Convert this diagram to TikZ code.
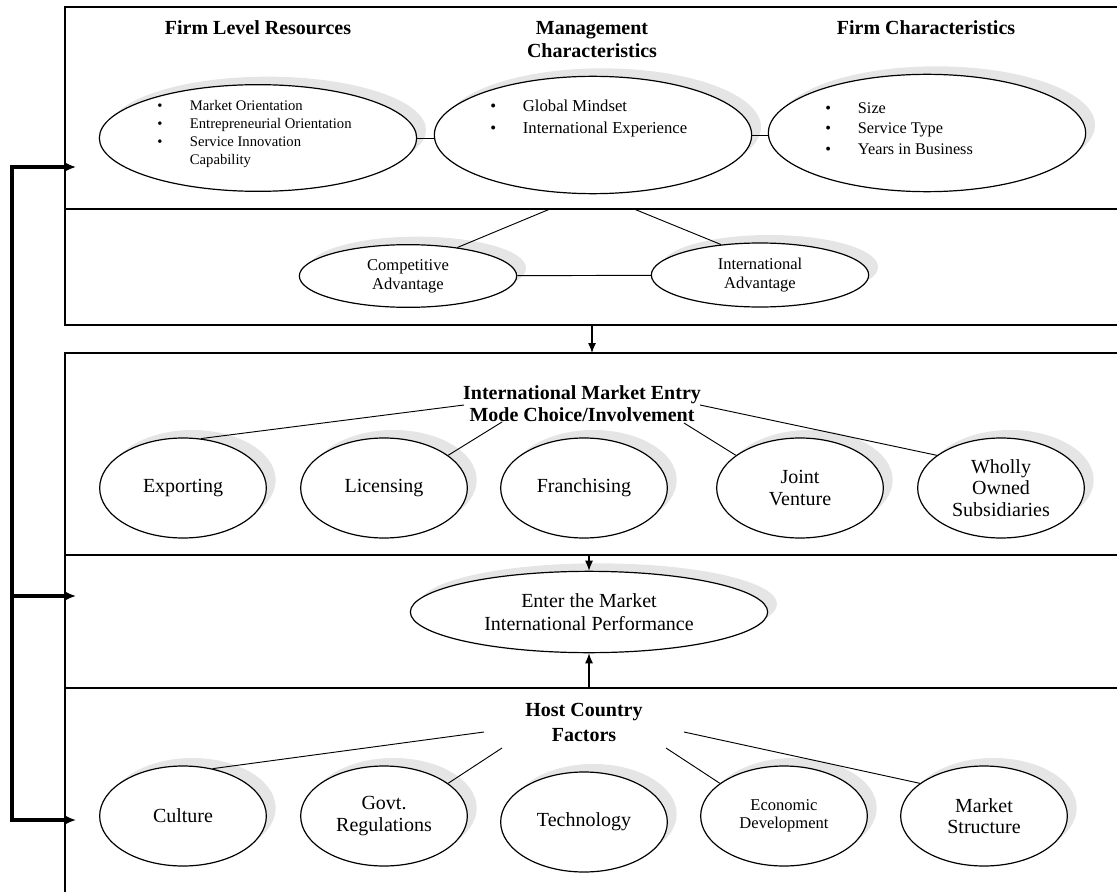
\documentclass[tikz,border=0pt]{standalone}
\usepackage{fontspec}
\setmainfont{Liberation Serif}
\usetikzlibrary{shapes.geometric,shadows,arrows.meta}
\newcommand{\blt}{\makebox[24.5pt][l]{\textbullet}}

\begin{document}
\begin{tikzpicture}[
    x=0.75pt, y=-0.75pt,
    hd/.style={font=\fontsize{15}{17}\selectfont\bfseries, align=center, inner sep=0pt},
    oval/.style={ellipse, draw, line width=0.9pt, fill=white, inner sep=0pt, align=center,
        general shadow={shadow xshift=7pt, shadow yshift=6pt, fill=gray!20}},
    mode/.style={oval, minimum width=125pt, minimum height=75pt, font=\fontsize{15}{16}\selectfont},
    lst/.style={anchor=west, align=left, inner sep=0pt},
    frame/.style={line width=0.8pt},
    link/.style={line width=0.7pt},
    fb/.style={line width=2.6pt, -{Latex[length=9pt,width=8pt]}},
    fbboth/.style={line width=2.6pt, {Latex[length=9pt,width=8pt]}-{Latex[length=9pt,width=8pt]}},
    tip/.style={line width=0.9pt, -{Latex[length=7.5pt,width=6pt]}}]

    \useasboundingbox (0,0) rectangle (1117,895);

    % frames of the three blocks
    \draw[frame] (1117,7) -- (65,7) -- (65,325) -- (1117,325);
    \draw[frame] (65,209) -- (1117,209);
    \draw[line width=1.2pt] (1117,353) -- (65,353) -- (65,688);
    \draw[frame] (65,555) -- (1117,555);
    \draw[line width=2pt] (65,688) -- (1117,688);
    \draw[frame] (65,688) -- (65,892);

    % feedback loop on the left
    \coordinate (intop) at (76,167);
    \coordinate (fbtop) at (12,167);
    \coordinate (fbmid) at (12,596);
    \coordinate (inmid) at (76,596);
    \coordinate (fbbot) at (12,820);
    \coordinate (inbot) at (76,820);
    \draw[fbboth] (intop) -- (fbtop) -- (fbbot) -- (inbot);
    \draw[fb] (fbmid) -- (inmid);

    % firm level block
    \node[hd] (hres) at (258,28) {Firm Level Resources};
    \node[hd] (hmgmt) at (592,39.5) {Management\\Characteristics};
    \node[hd] (hchr) at (926,28) {Firm Characteristics};

    \node[oval, minimum width=238pt, minimum height=80pt] (res) at (258,138) {};
    \node[oval, minimum width=238pt, minimum height=88pt] (mgmt) at (593,135) {};
    \node[oval, minimum width=238pt, minimum height=88pt] (chr) at (927,133) {};

    \node[lst, font=\fontsize{11}{13.5}\selectfont] (restxt) at (157,134)
        {\blt Market Orientation\\\blt Entrepreneurial Orientation\\\blt Service Innovation\\\makebox[24.5pt]{}Capability};
    \node[lst, font=\fontsize{12.5}{16}\selectfont] (mgmttxt) at (490,118.5)
        {\blt Global Mindset\\\blt International Experience};
    \node[lst, font=\fontsize{12.2}{15.4}\selectfont] (chrtxt) at (825,128.5)
        {\blt Size\\\blt Service Type\\\blt Years in Business};

    \node[oval, minimum width=163pt, minimum height=47pt, font=\fontsize{12.4}{14}\selectfont] (comp) at (408,276) {Competitive\\Advantage};
    \node[oval, minimum width=163pt, minimum height=48pt, font=\fontsize{12.4}{14}\selectfont] (intl) at (760,275) {International\\Advantage};

    % entry mode block
    \node[hd] (hentry) at (582,403.5) {International Market Entry\\Mode Choice/Involvement};
    \node[mode] (exp) at (183,488) {Exporting};
    \node[mode] (lic) at (384,488) {Licensing};
    \node[mode] (fra) at (584,488) {Franchising};
    \node[mode] (jv) at (800,488) {Joint\\Venture};
    \node[mode] (wos) at (1001,488) {Wholly\\Owned\\Subsidiaries};

    \node[oval, minimum width=268pt, minimum height=61pt, font=\fontsize{15}{17}\selectfont] (enter) at (589,612) {Enter the Market\\International Performance};

    % host country block
    \node[hd, font=\fontsize{15}{19}\selectfont\bfseries] (hhost) at (584,722.5) {Host Country\\Factors};
    \node[mode] (cul) at (183,816) {Culture};
    \node[mode] (gov) at (384,816) {Govt.\\Regulations};
    \node[mode] (tec) at (584,822) {Technology};
    \node[mode, font=\fontsize{12.4}{13.5}\selectfont] (eco) at (784,816) {Economic\\Development};
    \node[mode] (mkt) at (984,816) {Market\\Structure};

    % links
    \draw[link] (res.east) -- (res.east -| mgmt.west);
    \draw[link] (mgmt.east) -- (mgmt.east -| chr.west);
    \coordinate (d1) at (550,209);
    \coordinate (d2) at (634,209);
    \draw[link] (d1) -- (comp.30);
    \draw[link] (d2) -- (intl.142);
    \draw[link] (comp) -- (intl);

    \coordinate (m1) at (464,405);
    \coordinate (m2) at (502,422);
    \coordinate (m3) at (684,423);
    \coordinate (m4) at (700,405);
    \draw[link] (m1) -- (exp.70);
    \draw[link] (m2) -- (lic.27);
    \draw[link] (m3) -- (jv.153);
    \draw[link] (m4) -- (wos.153);

    \coordinate (h1) at (484,732);
    \coordinate (h2) at (502,748);
    \coordinate (h3) at (666,748);
    \coordinate (h4) at (684,732);
    \draw[link] (h1) -- (cul.58);
    \draw[link] (h2) -- (gov.27);
    \draw[link] (h3) -- (eco.153);
    \draw[link] (h4) -- (mkt.153);

    % flow arrows
    \coordinate (a1) at (592,325);
    \coordinate (a2) at (592,353);
    \draw[tip] (a1) -- (a2);
    \coordinate (a3) at (589,555);
    \draw[tip] (a3) -- (enter.north);
    \coordinate (a4) at (589,688);
    \draw[tip] (a4) -- (enter.south);
\end{tikzpicture}
\end{document}
